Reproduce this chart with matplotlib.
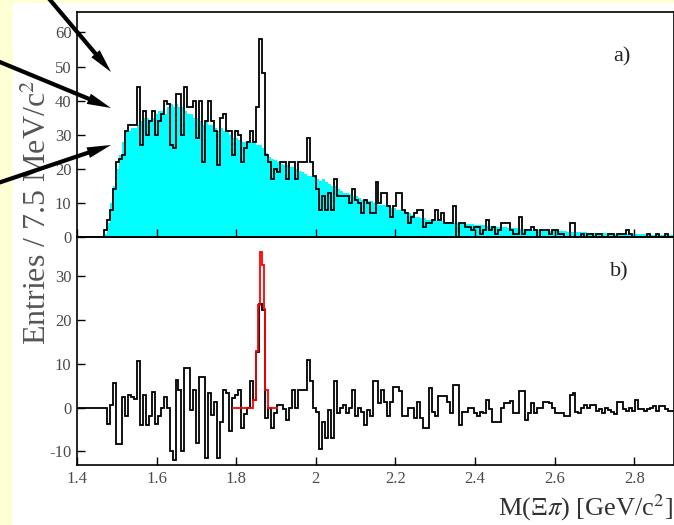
import numpy as np
import matplotlib
matplotlib.use("Agg")
import matplotlib.pyplot as plt
from matplotlib.patches import Rectangle, FancyArrowPatch

plt.rcParams['font.family'] = ['Liberation Serif', 'DejaVu Serif']
plt.rcParams['mathtext.fontset'] = 'stix'

# 7.5 MeV bins from 1.4 to 2.9 GeV
edges = np.linspace(1.4, 2.9, 201)

# a) data: entries per bin
counts = [0, 0, 0, 0, 0, 0, 0, 0, 0, 2,
          5, 8, 14, 22, 23, 24, 31, 33, 33, 33,
          44, 27, 37, 30, 34, 37, 30, 34, 36, 40,
          39, 27, 26, 42, 42, 30, 44, 38, 38, 40,
          29, 40, 22, 34, 40, 34, 31, 21, 35, 36,
          31, 31, 24, 31, 30, 22, 26, 28, 31, 28,
          38, 58, 48, 24, 22, 17, 20, 19, 22, 22,
          17, 22, 22, 17, 22, 22, 22, 29, 22, 18,
          14, 8, 12, 8, 13, 8, 17, 12, 12, 12,
          12, 10, 14, 11, 10, 7, 11, 10, 7, 7,
          16, 10, 13, 13, 9, 6, 9, 13, 13, 8,
          7, 4, 6, 7, 8, 8, 3, 4, 4, 5,
          8, 5, 7, 4, 4, 4, 9, 0, 4, 4,
          3, 3, 2, 3, 3, 1, 2, 5, 2, 3,
          1, 2, 4, 4, 4, 2, 1, 1, 6, 1,
          2, 2, 3, 2, 0, 2, 2, 2, 1, 2,
          2, 1, 1, 0, 0, 4, 4, 0, 0, 1,
          0, 1, 1, 0, 1, 1, 0, 0, 1, 1,
          0, 1, 1, 1, 2, 1, 0, 0, 0, 0,
          0, 1, 0, 0, 1, 0, 0, 1, 0, 0]

# a) mixed-event background (cyan)
background = [0, 0, 0, 0, 0, 0, 0, 0, 0, 1,
              4, 10, 15, 20, 24, 28, 31, 31, 32, 32,
              33, 34, 35, 35, 34, 35, 36, 37, 37, 36,
              38, 39, 38, 39, 38, 38, 37, 36, 36, 35,
              35, 34, 33, 34, 33, 33, 32, 31, 32, 31,
              31, 30, 29, 29, 28.5, 28, 28, 27.5, 28, 27.5,
              27, 27, 26, 24.5, 23.5, 23, 22.5, 22, 21.5, 21,
              21, 20.5, 20.5, 20, 19.5, 19, 18.5, 18, 18, 17.5,
              17, 16.5, 17, 16, 15.5, 15, 15, 14, 13.5, 13,
              13, 12.5, 12, 12, 11.5, 11, 11, 10.5, 10.5, 10,
              10, 9.5, 9.5, 9.5, 9, 8.5, 8.5, 8, 8, 7.5,
              7, 7, 6.5, 6, 6, 5.5, 5.5, 5, 5, 5,
              4.8, 4.7, 4.6, 4.5, 4.4, 4.3, 4.2, 4.1, 4, 3.9,
              3.8, 3.8, 3.7, 3.6, 3.5, 3.5, 3.4, 3.3, 3.2, 3.1,
              3, 2.9, 2.8, 2.8, 2.7, 2.6, 2.5, 2.5, 2.4, 2.4,
              2.3, 2.3, 2.2, 2.2, 2.1, 2.1, 2, 2, 1.9, 1.9,
              1.8, 1.8, 1.7, 1.7, 1.6, 1.6, 1.5, 1.5, 1.5, 1.4,
              1.4, 1.3, 1.3, 1.3, 1.2, 1.2, 1.2, 1.1, 1.1, 1.1,
              1.0, 1.0, 1.0, 0.9, 0.9, 0.9, 0.9, 0.8, 0.8, 0.8,
              0.8, 0.7, 0.7, 0.7, 0.7, 0.6, 0.6, 0.6, 0.6, 0.6]

# b) background-subtracted spectrum
subtracted = [0, 0, 0, 0, 0, 0, 0, 0, 0, 0,
              -3.8, 0.6, 5.7, -8.4, -8.4, 2.5, -2, 3, 2.5, 2,
              10.6, -4, 3, -4, -2, 3.6, -3.8, -1.8, 0, 2.5,
              0, -10, -12, 6.3, 4, -10, 9.1, 9.1, -0.5, 4,
              -8.1, 7, 7, -11.6, 3.3, -1.7, 1.4, -11.6, -3.2, 4,
              3.3, -5.3, 2.1, 3, 4, -4.7, -1.5, 0, 6, 1.7,
              12.8, 23.8, 22.3, -2.4, 0, -4.7, -1.3, 0.6, 0.6, -0.2,
              -2.8, 0, 4, 0, 4, 4, 4, 10.9, 6, 0,
              -1, -9.4, -3.2, -7, -0.5, -7, 6, -1.3, 0, 0.6,
              -1.3, 0, 4, -2, 0, -1, -4, -0.5, -2, 6,
              6, 1, 4, 1.4, -2, 1.4, 4.8, 4.8, 3.7, -2,
              -2, 0, 0, -2.4, 1.4, -2.4, -4.7, -4.7, 4.4, -0.9,
              -2, 2.7, 2.7, 2.7, 1.4, -1.3, 5.2, 5.2, -4, -0.9,
              -0.9, 0, 0, -1.3, -2, -0.9, -1.3, 1.75, -0.4, -3.2,
              -3.2, -3.2, 0, 1, 1, 1.6, -1.3, -1.3, 3.7, 3.7,
              -2.8, -1.3, 1, -1.3, 0, 0, 1.4, 1.4, 1, 0,
              -1.3, -1.3, -1.3, -2, -2, 2.9, 3.3, -0.9, -1.3, 0,
              0.6, 0, 0.6, 0.6, -0.8, -0.4, -1.3, 0, -0.6, -0.9,
              -1.5, 1.4, 1.4, -0.4, -0.8, 0, -0.8, 1.75, -0.4, -0.4,
              -0.8, -0.4, 0, 0.3, -0.8, 0.3, 0.3, -0.4, -0.8, -0.8]

# b) fit of the peak (red)
fit_edges = [1.79, 1.842, 1.850, 1.856, 1.860, 1.865, 1.869, 1.873, 1.879, 1.905]
fit_values = [0, 1.7, 13, 23.5, 35.5, 32.5, 22.5, 4, 0]

x_ticks = [1.4, 1.6, 1.8, 2.0, 2.2, 2.4, 2.6, 2.8]
x_tick_labels = ['1.4', '1.6', '1.8', '2', '2.2', '2.4', '2.6', '2.8']
ya_ticks = [0, 10, 20, 30, 40, 50, 60]
yb_ticks = [-10, 0, 10, 20, 30]

W, H = 674, 525
fig = plt.figure(figsize=(W / 100, H / 100), dpi=100)
fig.patch.set_facecolor('#FFFFD6')
fig.add_artist(Rectangle((13 / W, 0), 1 - 13 / W, 1 - 3 / H,
                         transform=fig.transFigure, fc='white', ec='none', zorder=0))

left = 77 / W
width = 1 - left
ax_a = fig.add_axes([left, (H - 237) / H, width, 225 / H])
ax_b = fig.add_axes([left, (H - 465) / H, width, 228 / H])

tick_col = '#4a4a4a'
for ax in (ax_a, ax_b):
    ax.set_facecolor('none')
    ax.set_xlim(1.4, 2.9)
    ax.set_xticks(x_ticks)
    ax.tick_params(direction='in', top=False, right=False, length=6,
                   width=1.0, labelsize=12, labelcolor=tick_col, pad=4)
    for s in ax.spines.values():
        s.set_linewidth(1.2)

# panel a
ax_a.stairs(background, edges, fill=True, color='#00FFFF', lw=0)
ax_a.stairs(counts, edges, color='black', lw=1.3)
ax_a.set_ylim(0, 66)
ax_a.set_yticks(ya_ticks)
ax_a.set_yticklabels([str(v) for v in ya_ticks])
ax_a.tick_params(axis='x', labelbottom=False)
ax_a.text(0.898, 0.78, 'a)', transform=ax_a.transAxes, fontsize=16, color='#222222')

# panel b
ax_b.stairs(subtracted, edges, baseline=None, color='black', lw=1.3)
ax_b.stairs(fit_values, fit_edges, baseline=None, color='red', lw=1.3)
ax_b.set_ylim(-13.1, 39)
ax_b.set_yticks(yb_ticks)
ax_b.set_yticklabels([str(v) for v in yb_ticks])
ax_b.set_xticklabels(x_tick_labels)
ax_b.text(0.893, 0.825, 'b)', transform=ax_b.transAxes, fontsize=16, color='#222222')

fig.text(38 / W, 1 - 212 / H, 'Entries / 7.5 MeV/c$^2$', rotation=90,
         ha='center', va='center', fontsize=23, color='#555555')
fig.text(673 / W, 1 - 508 / H, 'M(Ξ$\\pi$) [GeV/c$^2$]', ha='right',
         va='center', fontsize=19, color='#333333')

# arrows pointing at the threshold region
arrow_tips = [(111, 72), (111, 108), (111, 145)]
arrow_tails = [(40, -12), (-5, 60), (-5, 184)]
for (tx, ty), (sx, sy) in zip(arrow_tips, arrow_tails):
    fig.add_artist(FancyArrowPatch(
        (sx / W, 1 - sy / H), (tx / W, 1 - ty / H), transform=fig.transFigure,
        arrowstyle='simple,head_length=2.4,head_width=1.1,tail_width=0.42',
        mutation_scale=7.2, lw=0, color='black', shrinkA=0, shrinkB=0, zorder=5))

fig.savefig('out.png', dpi=100, facecolor=fig.get_facecolor())
